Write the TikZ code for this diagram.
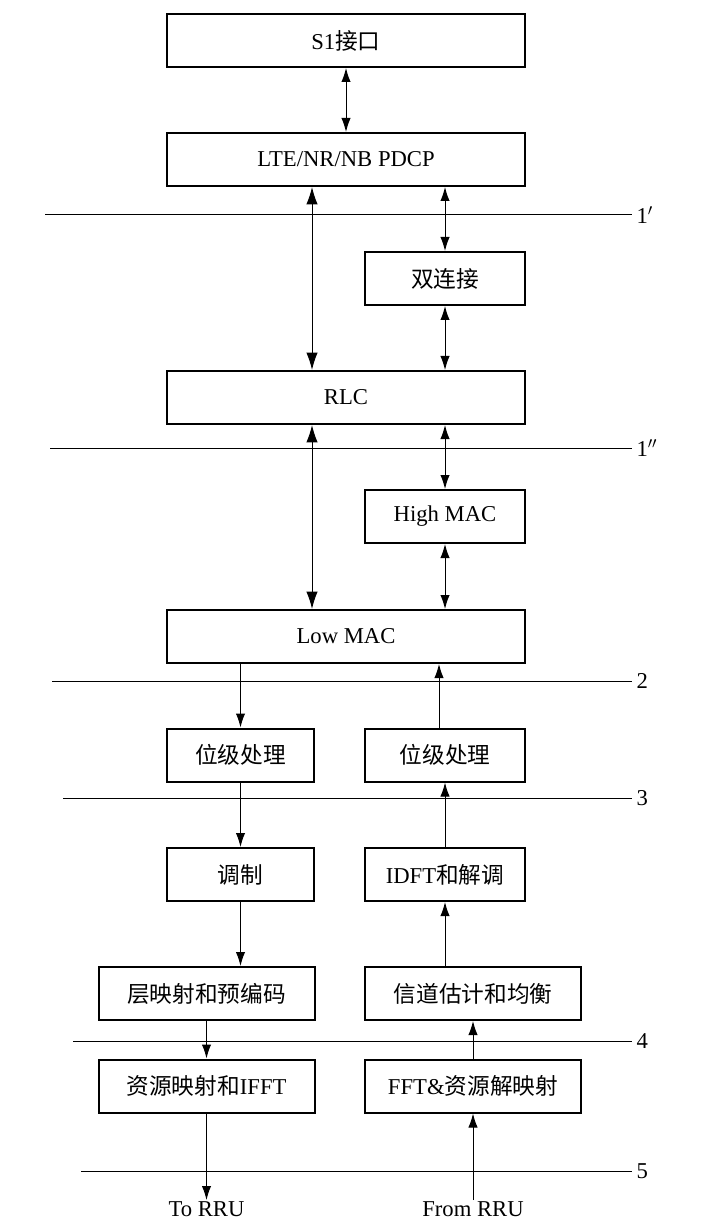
\documentclass[tikz,border=0pt]{standalone}
\usepackage{fontspec}
\setmainfont{Liberation Serif}
\newfontfamily\cjk{Noto Sans CJK SC}
\usetikzlibrary{arrows.meta}

\newcommand{\zh}[1]{{\cjk #1}}

\begin{document}
\begin{tikzpicture}[x=0.75pt,y=-0.75pt,
block/.style={
% The shape:
rectangle,
minimum height=39.75pt, inner sep=0pt,
% The rest
draw=black, line width=1.5pt,
font=\fontsize{17pt}{20pt}\selectfont},
wide/.style={block, minimum width=268.5pt},
half/.style={block, minimum width=120pt},
narrow/.style={block, minimum width=110.25pt},
long/.style={block, minimum width=162pt},
link/.style={line width=0.75pt, -{Latex[length=10.5pt,width=7pt]}},
dbl/.style={line width=0.75pt, {Latex[length=10.5pt,width=7pt]}-{Latex[length=10.5pt,width=7pt]}},
bigdbl/.style={line width=0.75pt, {Latex[length=13pt,width=8.5pt]}-{Latex[length=13pt,width=8.5pt]}},
cut/.style={line width=0.75pt},
tag/.style={font=\fontsize{17pt}{20pt}\selectfont, inner sep=1pt}]

\useasboundingbox (0,0) rectangle (700,1226);

% upper stack
\node[wide] (s1) at (346,40.5) {S1\zh{接口}};
\node[wide] (pdcp) at (346,159.5) {LTE/NR/NB PDCP};
\node[half] (dc) at (445,278.5) {\zh{双连接}};
\node[wide] (rlc) at (346,397.5) {RLC};
\node[half] (hmac) at (445,516.5) {High MAC};
\node[wide] (lmac) at (346,636.5) {Low MAC};

% downlink / uplink chains
\node[narrow] (bitdl) at (240.5,755) {\zh{位级处理}};
\node[half] (bitul) at (445,755) {\zh{位级处理}};
\node[narrow] (mod) at (240.5,874.5) {\zh{调制}};
\node[half] (demod) at (445,874.5) {IDFT\zh{和解调}};
\node[long] (precode) at (206.5,993.5) {\zh{层映射和预编码}};
\node[long] (chest) at (473,993.5) {\zh{信道估计和均衡}};
\node[long] (remap) at (206.5,1086) {\zh{资源映射和}IFFT};
\node[long] (demap) at (473,1086) {FFT\&\zh{资源解映射}};

\node[tag, anchor=north] (torru) at (206.5,1200) {To RRU};
\node[tag, anchor=north] (fromrru) at (473,1200) {From RRU};

\coordinate (colA) at (312,0);
\coordinate (colC) at (439,0);

% split lines
\foreach \y/\x/\lab in {215/45/1$'$, 448/50/1$''$, 681/52/2, 798/63/3, 1041/73/4, 1171/81/5}
  \draw[cut] (\x,\y) -- (632,\y) node[tag, right, inner sep=3pt] (split\y) {\lab};

\draw[dbl] (s1) -- (pdcp);
\draw[bigdbl] (pdcp.south -| colA) -- (rlc.north -| colA);
\draw[dbl] (pdcp.south -| dc.north) -- (dc.north);
\draw[dbl] (dc.south) -- (dc.south |- rlc.north);
\draw[bigdbl] (rlc.south -| colA) -- (lmac.north -| colA);
\draw[dbl] (rlc.south -| hmac.north) -- (hmac.north);
\draw[dbl] (hmac.south) -- (hmac.south |- lmac.north);

\draw[link] (lmac.south -| bitdl.north) -- (bitdl.north);
\draw[link] (bitul.north -| colC) -- (lmac.south -| colC);
\draw[link] (bitdl) -- (mod);
\draw[link] (demod) -- (bitul);
\draw[link] (mod.south) -- (mod.south |- precode.north);
\draw[link] (chest.north -| demod.south) -- (demod.south);
\draw[link] (precode) -- (remap);
\draw[link] (demap) -- (chest);
\draw[link] (remap) -- (torru);
\draw[link] (fromrru) -- (demap);

\end{tikzpicture}
\end{document}
